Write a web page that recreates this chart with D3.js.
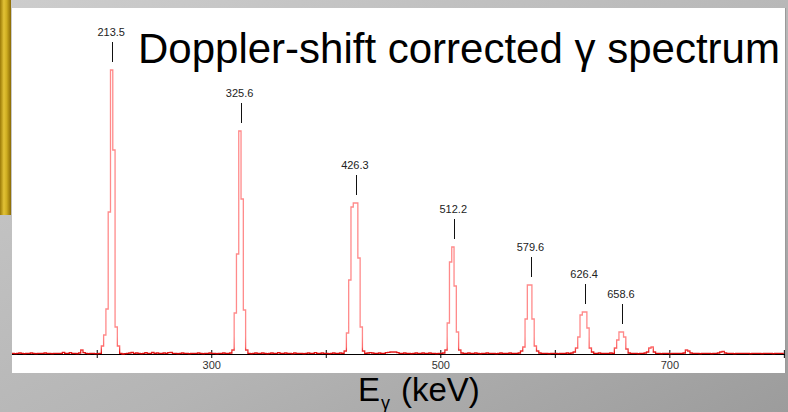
<!DOCTYPE html>
<html><head><meta charset="utf-8">
<script src="https://cdn.jsdelivr.net/npm/d3@7"></script>
<style>html,body{margin:0;padding:0;overflow:hidden;background:#bbb}</style>
</head><body>
<svg id="c" width="788" height="412"></svg>
<script>
// ---------- data ----------
const binStartE = 126;     // keV, low edge of first bin
const binWidth = 2;        // keV per bin
const binEndE = 800;
// counts per 2-keV bin, rows of 20 bins (40 keV)
const counts = [
  /*126*/ 2,1,2,3,2,1,2,2,3,2,1,2,2,2,3,2,2,1,2,2,
  /*166*/ 2,2,5,2,2,4,2,2,1,3,12,4,2,1,2,2,1,1,2,24,
  /*206*/ 57,135,426,852,612,81,24,2,0,1,2,3,5,2,3,2,1,2,4,2,
  /*246*/ 2,5,2,3,2,2,3,2,4,5,2,2,1,2,3,2,2,1,2,2,
  /*286*/ 2,3,2,1,2,2,3,2,2,1,2,2,3,2,2,3,12,123,300,669,
  /*326*/ 465,132,12,2,1,2,3,2,2,3,2,1,2,3,2,2,4,2,2,3,
  /*366*/ 2,2,1,3,2,2,2,1,2,3,2,2,4,2,2,3,2,2,1,2,
  /*406*/ 3,2,2,3,2,9,63,222,441,453,453,288,81,9,2,3,4,3,2,2,
  /*446*/ 3,2,2,4,5,6,6,6,4,2,2,3,2,2,1,2,3,2,2,3,
  /*486*/ 2,2,3,2,2,1,2,2,3,12,93,276,321,204,66,12,3,2,2,3,
  /*526*/ 2,2,3,2,1,2,2,3,2,2,2,1,2,3,2,2,2,3,2,2,
  /*566*/ 2,3,9,21,105,207,207,105,24,9,3,2,2,2,1,2,2,2,1,2,
  /*606*/ 2,2,3,2,3,6,18,51,117,126,126,78,18,6,2,2,3,2,2,2,
  /*646*/ 2,3,2,18,42,66,66,51,15,3,2,2,2,1,2,2,3,6,18,21,
  /*686*/ 6,2,2,1,2,2,2,1,2,2,2,2,2,3,12,9,3,2,2,2,
  /*726*/ 1,2,2,2,2,1,2,2,3,6,8,3,2,2,2,1,2,2,2,2,
  /*766*/ 2,2,1,2,2,2,2,1,2,2,2,2,1,2,2,2,2
];
const xTicks = [200, 300, 400, 500, 600, 700, 800];
const xTickLabels = [300, 500, 700];
const peakEnergies = [213.5, 325.6, 426.3, 512.2, 579.6, 626.4, 658.6];
const peakLabels = ["213.5", "325.6", "426.3", "512.2", "579.6", "626.4", "658.6"];
const titleText = "Doppler-shift corrected \u03b3 spectrum";

// ---------- drawing ----------
const W = 788, H = 412;
const svg = d3.select("#c");
const defs = svg.append("defs");

const bg = defs.append("linearGradient").attr("id", "bg")
  .attr("x1", "0").attr("y1", "0").attr("x2", "1").attr("y2", "1");
bg.append("stop").attr("offset", "0").attr("stop-color", "#cdcdcd");
bg.append("stop").attr("offset", "0.6").attr("stop-color", "#b4b4b4");
bg.append("stop").attr("offset", "1").attr("stop-color", "#9c9c9c");

const gold = defs.append("linearGradient").attr("id", "gold")
  .attr("x1", "0").attr("y1", "0").attr("x2", "1").attr("y2", "0");
gold.append("stop").attr("offset", "0").attr("stop-color", "#9a7a08");
gold.append("stop").attr("offset", "0.35").attr("stop-color", "#e2c236");
gold.append("stop").attr("offset", "0.6").attr("stop-color", "#cfae22");
gold.append("stop").attr("offset", "1").attr("stop-color", "#8a6a04");

svg.append("rect").attr("width", W).attr("height", H).attr("fill", "url(#bg)");
svg.append("rect").attr("x", 0).attr("y", 0).attr("width", 11).attr("height", 215).attr("fill", "url(#gold)");

const panel = {x0: 12, x1: 785, y0: 8, y1: 373};
svg.append("rect").attr("x", panel.x0).attr("y", panel.y0)
  .attr("width", panel.x1 - panel.x0).attr("height", panel.y1 - panel.y0).attr("fill", "#ffffff");
svg.append("line").attr("x1", panel.x1 + 0.5).attr("x2", panel.x1 + 0.5)
  .attr("y1", panel.y0).attr("y2", panel.y1).attr("stroke", "#9a9a9a").attr("stroke-width", 1);

const x = d3.scaleLinear().domain([126, 801]).range([12, 785]);
const axisY = 354;
const y = d3.scaleLinear().domain([0, 1062]).range([axisY, 0]);

// x axis
const gx = svg.append("g").attr("transform", `translate(0,${axisY})`)
  .call(d3.axisBottom(x).tickValues(xTicks).tickSizeOuter(0).tickSize(3)
    .tickFormat(d => xTickLabels.includes(d) ? d : ""));
gx.select(".domain").attr("stroke", "#000").attr("d", `M${panel.x0},0.5H${panel.x1}`);
gx.selectAll(".tick line").attr("y1", -4).attr("y2", 4).attr("stroke", "#000");
gx.selectAll(".tick text").attr("y", 14.5).attr("dy", null)
  .attr("font-family", "Liberation Sans, Arial, sans-serif").attr("font-size", 11).attr("fill", "#333");

// spectrum
const sg = defs.append("linearGradient").attr("id", "spec")
  .attr("gradientUnits", "userSpaceOnUse").attr("x1", 0).attr("x2", 0).attr("y1", 336).attr("y2", 356);
sg.append("stop").attr("offset", "0").attr("stop-color", "#ff8a8a");
sg.append("stop").attr("offset", "0.55").attr("stop-color", "#ff6a6a");
sg.append("stop").attr("offset", "0.85").attr("stop-color", "#e01010");
sg.append("stop").attr("offset", "1").attr("stop-color", "#c80000");

const bins = counts.map((c, i) => ({e: binStartE + i * binWidth, c}));
const pts = bins.concat([{e: binEndE, c: counts[counts.length - 1]}]);
const line = d3.line().x(d => x(d.e)).y(d => y(d.c)).curve(d3.curveStepAfter);
svg.append("path").datum(pts).attr("d", line)
  .attr("fill", "none").attr("stroke", "url(#spec)").attr("stroke-width", 1.3);

// peak labels
peakEnergies.forEach((E, k) => {
  const near = bins.filter(b => b.e + binWidth > E - 4 && b.e < E + 4);
  const top = y(d3.max(near, b => b.c));
  const px = Math.round(x(E)) + 0.5;
  svg.append("line").attr("x1", px).attr("x2", px)
    .attr("y1", top - 28).attr("y2", top - 8).attr("stroke", "#111").attr("stroke-width", 1);
  svg.append("text").attr("x", x(E) - 1).attr("y", top - 34).attr("text-anchor", "middle")
    .attr("font-family", "Liberation Sans, Arial, sans-serif").attr("font-size", 11).attr("fill", "#222")
    .text(peakLabels[k]);
});

// title
svg.append("text").attr("x", 138).attr("y", 63)
  .attr("font-family", "Liberation Sans, Arial, sans-serif").attr("font-size", 42).attr("fill", "#000")
  .text(titleText);

// axis title
const af = "Liberation Sans, Arial, sans-serif";
svg.append("text").attr("x", 358).attr("y", 401).attr("font-family", af).attr("font-size", 33).attr("fill", "#000").text("E");
svg.append("text").attr("x", 381).attr("y", 409).attr("font-family", af).attr("font-size", 18).attr("fill", "#000").text("\u03b3");
svg.append("text").attr("x", 401).attr("y", 401).attr("font-family", af).attr("font-size", 33).attr("fill", "#000").text("(keV)");
</script>
</body></html>
